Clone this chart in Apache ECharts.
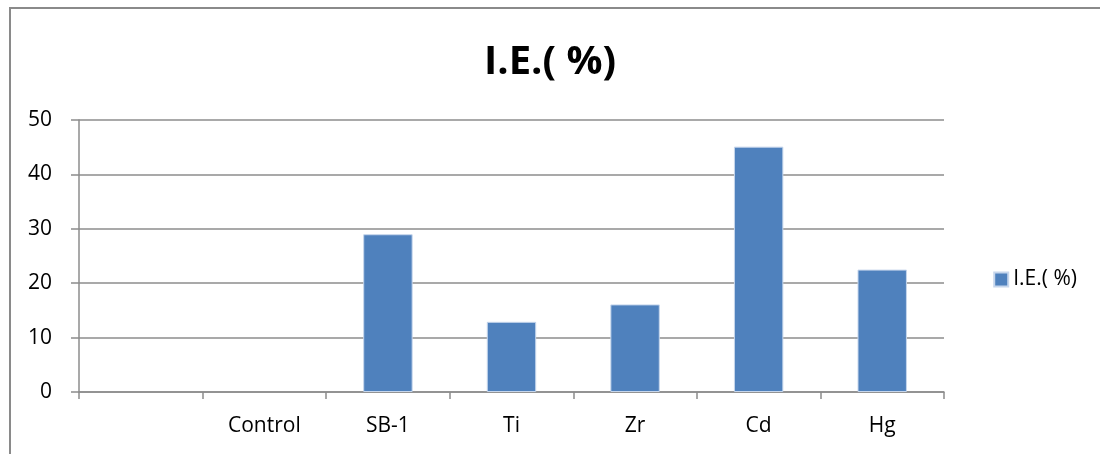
<!DOCTYPE html>
<html>
<head>
<meta charset="utf-8">
<script src="https://cdn.jsdelivr.net/npm/echarts@6/dist/echarts.min.js"></script>
<style>
  html, body { margin: 0; padding: 0; background: #fff; }
  #chart { width: 1100px; height: 454px; }
</style>
</head>
<body>
<div id="chart"></div>
<script>
// Inhibition efficiency per sample (first slot is an empty category)
const categories = ['', 'Control', 'SB-1', 'Ti', 'Zr', 'Cd', 'Hg'];
const ieValues = [null, 0, 29.0, 12.9, 16.1, 45.1, 22.5];
const seriesName = 'I.E.( %)';
const yTicks = { min: 0, max: 50, interval: 10 };

const font = '"Open Sans", "Liberation Sans", sans-serif';
const chart = echarts.init(document.getElementById('chart'), null, { renderer: 'canvas' });

// zero-height bars get no outline so nothing shows at the baseline
const barData = ieValues.map(v => (v === 0 ? { value: v, itemStyle: { borderWidth: 0 } } : v));

chart.setOption({
  animation: false,
  backgroundColor: '#fff',
  graphic: [{
    type: 'rect',
    shape: { x: 10, y: 8, width: 1200, height: 600 },
    style: { fill: 'none', stroke: '#8a8a8a', lineWidth: 2 },
    silent: true
  }],
  title: {
    text: seriesName,
    left: 'center',
    top: 38,
    textStyle: { fontFamily: font, fontWeight: 'bold', fontSize: 40, color: '#000' }
  },
  legend: {
    data: [seriesName],
    right: 18,
    top: 264,
    orient: 'vertical',
    icon: 'rect',
    itemWidth: 14,
    itemHeight: 14,
    itemGap: 6,
    textStyle: { fontFamily: font, fontSize: 21, color: '#000' }
  },
  grid: { left: 79, right: 156, top: 120, bottom: 62, containLabel: false },
  xAxis: {
    type: 'category',
    data: categories,
    axisLine: { lineStyle: { color: '#8c8c8c', width: 1.5 } },
    axisTick: { show: true, length: 7, alignWithLabel: false, lineStyle: { color: '#8c8c8c', width: 1.5 } },
    axisLabel: { fontFamily: font, fontSize: 21, color: '#000', margin: 24, interval: 0 },
    splitLine: { show: false }
  },
  yAxis: {
    type: 'value',
    min: yTicks.min,
    max: yTicks.max,
    interval: yTicks.interval,
    axisLine: { show: true, lineStyle: { color: '#8c8c8c', width: 1.5 } },
    axisTick: { show: true, length: 8, lineStyle: { color: '#8c8c8c', width: 1.5 } },
    axisLabel: { fontFamily: font, fontSize: 21, color: '#000', margin: 27 },
    splitLine: { show: true, lineStyle: { color: '#8c8c8c', width: 1.5 } }
  },
  series: [{
    name: seriesName,
    type: 'bar',
    data: barData,
    barWidth: '40%',
    itemStyle: { color: '#4f81bd', borderColor: '#c6d6ec', borderWidth: 1 }
  }]
});
</script>
</body>
</html>
